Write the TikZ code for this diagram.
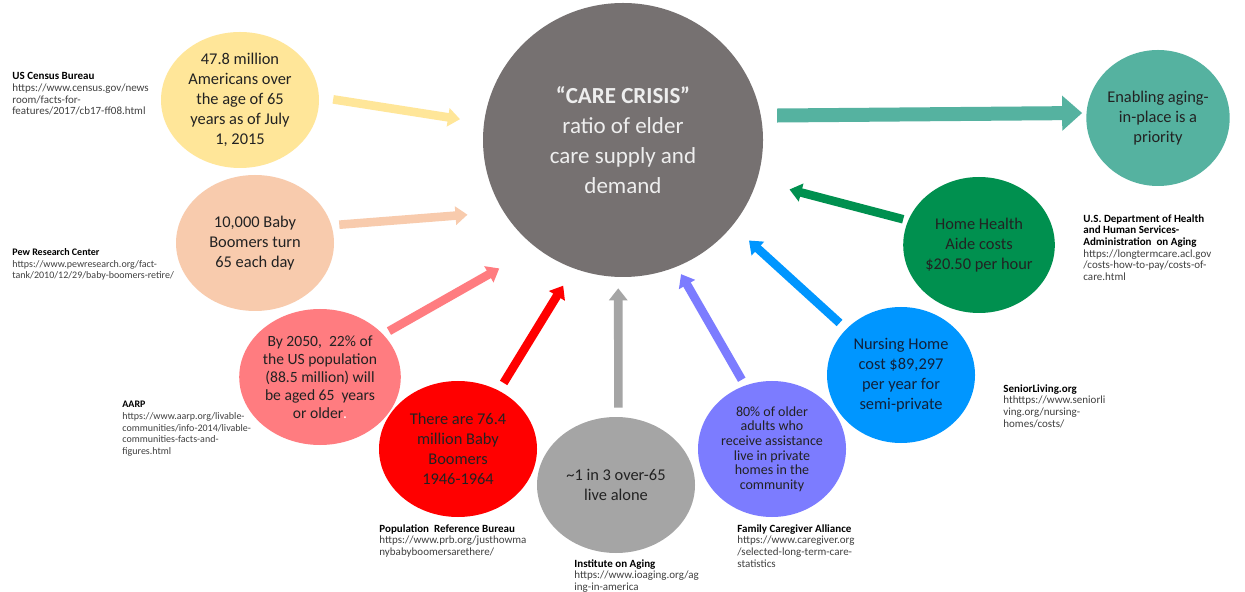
\documentclass[tikz,border=0pt]{standalone}
\usepackage{fontspec}
\setmainfont{Carlito}
\usepackage{tikz}
\usetikzlibrary{arrows.meta,shapes.geometric}

\definecolor{hubgrey}{HTML}{767171}
\definecolor{gold}{HTML}{FFE699}
\definecolor{peach}{HTML}{F8CBAD}
\definecolor{salmon}{HTML}{FF7C80}
\definecolor{brightred}{HTML}{FF0000}
\definecolor{midgrey}{HTML}{A5A5A5}
\definecolor{lavender}{HTML}{7C7CFF}
\definecolor{skyblue}{HTML}{0096FF}
\definecolor{darkgreen}{HTML}{00904F}
\definecolor{teal}{HTML}{55B2A0}
\definecolor{ink}{HTML}{222222}
\definecolor{navyink}{HTML}{10203A}
\definecolor{hubtext}{HTML}{EEEEEE}
\definecolor{urlgrey}{HTML}{404040}

\begin{document}
\begin{tikzpicture}[x=0.5pt, y=-0.5pt,
    bubble/.style={ellipse, inner sep=0pt, minimum width=79pt, minimum height=68pt,
      align=center, text=ink, font=\fontsize{8.2}{10}\selectfont},
    narrow/.style={bubble, minimum width=74pt},
    src/.style={anchor=north west, inner sep=0pt, align=left, text=urlgrey,
      font=\fontsize{5.5}{5.85}\selectfont},
    tight/.style={src, font=\fontsize{5}{5.85}\selectfont},
    feed/.style={line width=4.3pt, -{Triangle[length=6pt, width=9pt]}}]
  \fill[white] (0,0) rectangle (1245,592);
  \useasboundingbox (0,0) rectangle (1245,592);

  \node[ellipse, fill=hubgrey, minimum width=140pt, minimum height=137pt, inner sep=0pt,
    align=center, text=hubtext, font=\fontsize{11.5}{15}\selectfont] (hub) at (623,140)
    {\textbf{“CARE CRISIS”}\\ratio of elder\\care supply and\\demand};

  \node[bubble, fill=gold] (pop) at (240,100)
    {47.8 million\\Americans over\\the age of 65\\years as of July\\1, 2015};
  \node[bubble, fill=peach] (perday) at (255,243) {10,000 Baby\\Boomers turn\\65 each day};
  \node[bubble, fill=salmon, font=\fontsize{7.8}{9}\selectfont] (by2050) at (320,377)
    {By 2050,~ 22\% of\\the US population\\(88.5 million) will\\be aged 65~ years\\or older{\color{white}.}};
  \node[bubble, fill=brightred] (boomers) at (458,449)
    {There are 76.4\\million Baby\\Boomers\\1946-1964};
  \node[bubble, fill=midgrey] (alone) at (616,485) {\textasciitilde1 in 3 over-65\\live alone};
  \node[narrow, fill=lavender, font=\fontsize{7}{7.3}\selectfont] (athome) at (772,449)
    {80\% of older\\adults who\\receive assistance\\live in private\\homes in the\\community};
  \node[narrow, fill=skyblue, text=navyink] (nursing) at (901,375)
    {Nursing Home\\cost \$89,297\\per year for\\semi-private};
  \node[narrow, fill=darkgreen] (aide) at (979,245)
    {Home Health\\Aide costs\\\$20.50 per hour};
  \node[bubble, fill=teal, minimum width=70pt] (aging) at (1158,118)
    {Enabling aging-\\in-place is a\\priority};

  \draw[feed, gold, shorten <=7pt, shorten >=12pt] (pop.2) -- (hub.173);
  \draw[feed, peach, shorten <=3.8pt, shorten >=18pt] (perday.13) -- (hub.211);
  \draw[feed, salmon, shorten <=3.2pt, shorten >=21pt] (by2050.34) -- (hub.231);
  \draw[feed, brightred, shorten <=4.4pt, shorten >=10pt] (boomers.55) -- (hub.249);
  \draw[feed, midgrey, shorten <=4.5pt, shorten >=5.5pt] (alone.88) -- (hub.268);
  \draw[feed, lavender, shorten <=3.2pt, shorten >=4.2pt] (athome.113) -- (hub.293);
  \draw[feed, skyblue, shorten <=4.4pt, shorten >=11pt] (nursing.140) -- (hub.322);
  \draw[feed, darkgreen, shorten <=2.4pt, shorten >=16.8pt] (aide.161) -- (hub.343);
  \draw[teal, line width=7pt, -{Triangle[length=10pt, width=17pt]},
    shorten <=8pt, shorten >=2pt] (hub.10) -- (aging.176);

  \node[src] (popref) at (12,72)
    {\textcolor{black}{\textbf{US Census Bureau}}\\https://www.census.gov/news\\room/facts-for-\\features/2017/cb17-ff08.html};
  \node[tight] (perdayref) at (12,248)
    {\textcolor{black}{\textbf{Pew Research Center}}\\https://www.pewresearch.org/fact-\\tank/2010/12/29/baby-boomers-retire/};
  \node[tight] (by2050ref) at (122,401)
    {\textcolor{black}{\textbf{AARP}}\\https://www.aarp.org/livable-\\communities/info-2014/livable-\\communities-facts-and-\\figures.html};
  \node[src] (boomersref) at (379,524)
    {\textcolor{black}{\textbf{Population~ Reference Bureau}}\\https://www.prb.org/justhowma\\nybabyboomersarethere/};
  \node[src] (aloneref) at (574,559)
    {\textcolor{black}{\textbf{Institute on Aging}}\\https://www.ioaging.org/ag\\ing-in-america};
  \node[src] (athomeref) at (737,524)
    {\textcolor{black}{\textbf{Family Caregiver Alliance}}\\https://www.caregiver.org\\/selected-long-term-care-\\statistics};
  \node[src] (nursingref) at (1003,384)
    {\textcolor{black}{\textbf{SeniorLiving.org}}\\hthttps://www.seniorli\\ving.org/nursing-\\homes/costs/};
  \node[src] (aideref) at (1083,214)
    {\textcolor{black}{\textbf{U.S. Department of Health}}\\\textcolor{black}{\textbf{and Human Services-}}\\\textcolor{black}{\textbf{Administration~ on Aging}}\\https://longtermcare.acl.gov\\/costs-how-to-pay/costs-of-\\care.html};
\end{tikzpicture}
\end{document}
